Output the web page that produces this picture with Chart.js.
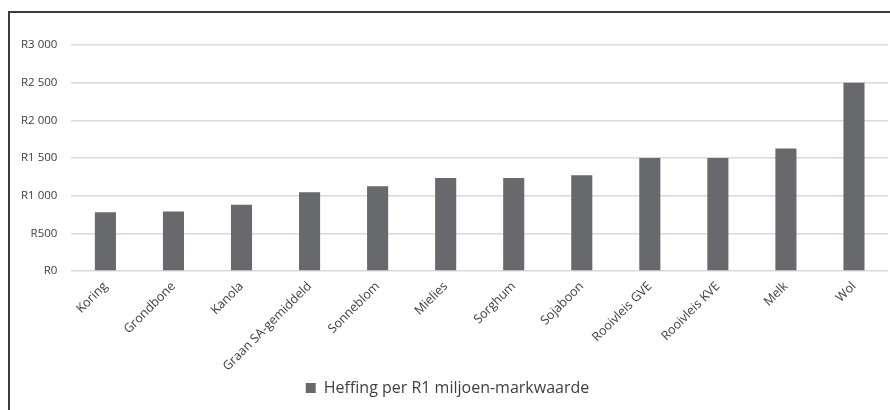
<!DOCTYPE html>
<html>
<head>
<meta charset="utf-8">
<script src="https://cdn.jsdelivr.net/npm/chart.js@4"></script>
<style>
  body { margin: 0; background: #fff; }
  #frame {
    position: absolute; left: 8px; top: 11px;
    width: 882px; height: 399px;
    border-left: 2px solid #3a3a3a; border-top: 2px solid #3a3a3a;
  }
  #wrap { position: absolute; left: -3px; top: 0; width: 883px; height: 397px; }
</style>
</head>
<body>
<div id="frame"><div id="wrap"><canvas id="chart"></canvas></div></div>
<script>
var categories = ["Koring", "Grondbone", "Kanola", "Graan SA-gemiddeld", "Sonneblom",
  "Mielies", "Sorghum", "Sojaboon", "Rooivleis GVE", "Rooivleis KVE", "Melk", "Wol"];
var heffing = [780, 790, 880, 1045, 1125, 1235, 1235, 1270, 1500, 1500, 1625, 2500];
var yTicks = [0, 500, 1000, 1500, 2000, 2500, 3000];
var seriesLabel = "Heffing per R1 miljoen-markwaarde";

function rand(v) {
  // R3 000 style, space as thousands separator
  var s = String(v);
  if (v >= 1000) s = s.slice(0, s.length - 3) + " " + s.slice(-3);
  return "R" + s;
}

Chart.defaults.font.family = "'Open Sans', sans-serif";
Chart.defaults.color = "#404040";

var ctx = document.getElementById("chart");
new Chart(ctx, {
  type: "bar",
  data: {
    labels: categories,
    datasets: [{
      label: seriesLabel,
      data: heffing,
      backgroundColor: "#68696c",
      barPercentage: 0.31,
      categoryPercentage: 1
    }]
  },
  options: {
    responsive: true,
    maintainAspectRatio: false,
    animation: false,
    layout: { padding: { left: 0, right: 2, top: 32, bottom: 4 } },
    plugins: {
      tooltip: { enabled: false },
      legend: {
        position: "bottom",
        labels: { boxWidth: 10, boxHeight: 10, font: { size: 16 }, color: "#404040", padding: 6 }
      }
    },
    scales: {
      x: {
        grid: { display: false },
        border: { display: false },
        ticks: { minRotation: 45, maxRotation: 45, font: { size: 12.5 }, color: "#404040", padding: 0 }
      },
      y: {
        min: 0,
        max: 3000,
        afterBuildTicks: function(axis) {
          axis.ticks = yTicks.map(function(v) { return { value: v }; });
        },
        grid: { color: "#d9d9d9", lineWidth: 1.5, drawTicks: false },
        border: { display: false },
        ticks: {
          font: { size: 11.5 }, color: "#404040", padding: 14,
          callback: function(v) { return rand(v); }
        }
      }
    }
  }
});
</script>
</body>
</html>
